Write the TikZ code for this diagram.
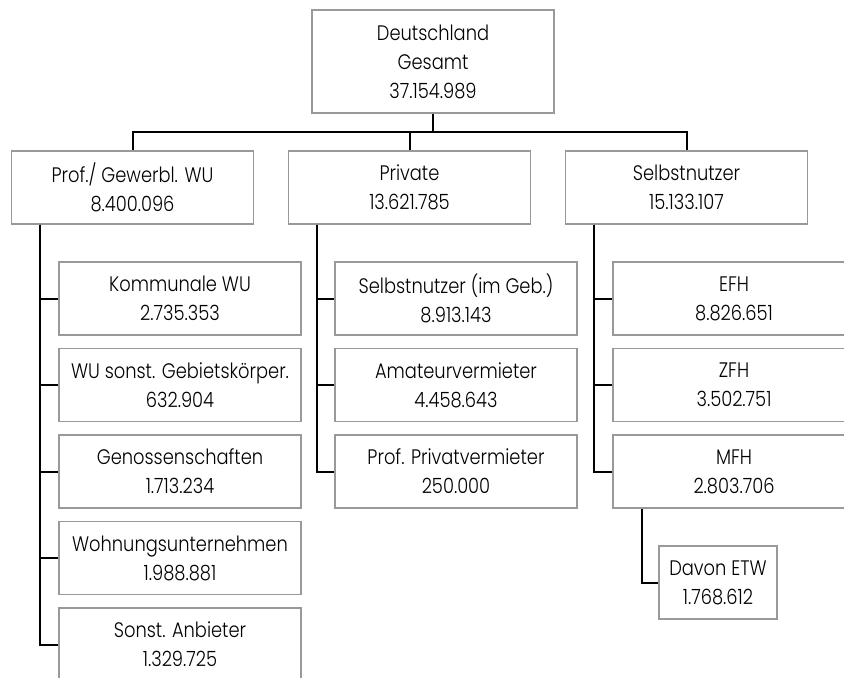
\documentclass[tikz,border=0pt]{standalone}
\usepackage{fontspec}
\setmainfont{Poppins}[UprightFont=* Light,FakeStretch=0.85]
\usetikzlibrary{positioning}
\tikzset{font=\fontsize{10.5}{14.5}\selectfont}
\tikzset{box/.style={draw=black!40,line width=0.7pt,align=center,
    minimum width=121pt,minimum height=36.5pt,inner sep=0pt}}
\tikzset{conn/.style={line width=1pt}}

\begin{document}
\begin{tikzpicture}[x=0.5pt,y=-0.5pt]
  \useasboundingbox (0,0) rectangle (844,677);
  \clip (0,0) rectangle (844,677);

  \node[box,minimum height=51.5pt] (top) at (433,61.5) {Deutschland\\Gesamt\\37.154.989};
  \coordinate (bar) at (433,132);

  \node[box] (prof) at (132.5,187.5) {Prof./ Gewerbl. WU\\8.400.096};
  \node[box] (priv) at (409.5,187.5) {Private\\13.621.785};
  \node[box] (selb) at (686.5,187.5) {Selbstnutzer\\15.133.107};

  \foreach \c in {prof,priv,selb}
    \draw[conn] (top.south) -- (top.south |- bar) -| (\c.north);

  % Prof./ Gewerbl.
  \foreach \name/\txt/\num [count=\i] in {k1/Kommunale WU/2.735.353,
      k2/WU sonst. Gebietskörper./632.904, k3/Genossenschaften/1.713.234,
      k4/Wohnungsunternehmen/1.988.881, k5/Sonst. Anbieter/1.329.725}{
    \node[box] (\name) at (180,212+86.5*\i) {\txt\\\num};
    \draw[conn] ([xshift=14.75pt]prof.south west) |- (\name.west);
  };

  % Private
  \foreach \name/\txt/\num [count=\i] in {p1/Selbstnutzer (im Geb.)/8.913.143,
      p2/Amateurvermieter/4.458.643, p3/Prof. Privatvermieter/250.000}{
    \node[box] (\name) at (456,212+86.5*\i) {\txt\\\num};
    \draw[conn] ([xshift=14.75pt]priv.south west) |- (\name.west);
  };

  % Selbstnutzer
  \foreach \name/\txt/\num [count=\i] in {s1/EFH/8.826.651,
      s2/ZFH/3.502.751, s3/MFH/2.803.706}{
    \node[box] (\name) at (734,212+86.5*\i) {\txt\\\num};
    \draw[conn] ([xshift=14.75pt]selb.south west) |- (\name.west);
  };

  \node[box,minimum width=59pt] (etw) at (718,582.5) {Davon ETW\\1.768.612};
  \draw[conn] ([xshift=14.75pt]s3.south west) |- (etw.west);
\end{tikzpicture}
\end{document}
